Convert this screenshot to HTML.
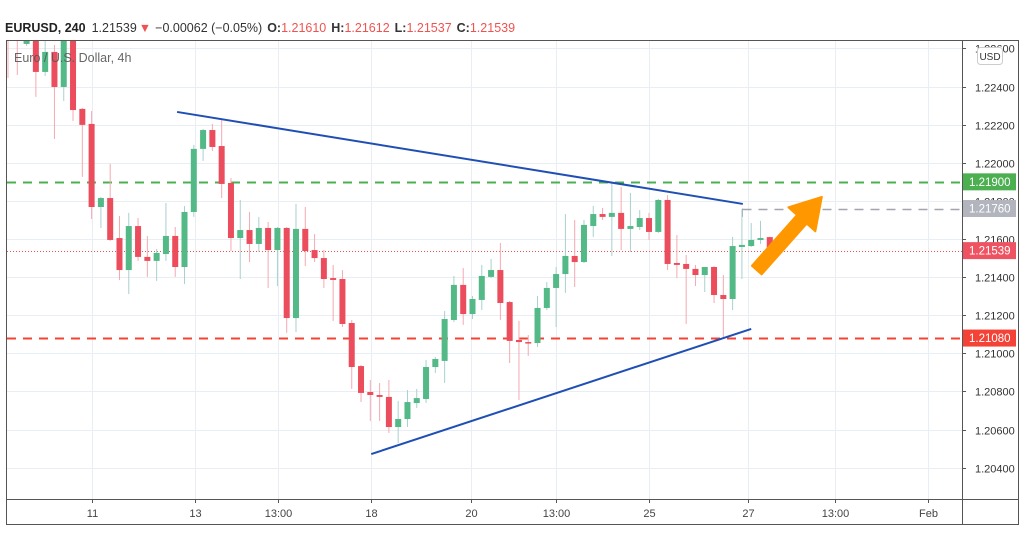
<!DOCTYPE html>
<html><head><meta charset="utf-8"><style>
html,body{margin:0;padding:0;background:#fff;}
svg{display:block;font-family:"Liberation Sans",sans-serif;}
</style></head><body>
<svg id="chart" width="1024" height="560" viewBox="0 0 1024 560" xmlns="http://www.w3.org/2000/svg">
<rect width="1024" height="560" fill="#fff"/>
<text x="5" y="32" font-size="12.5" fill="#333"><tspan font-weight="bold" fill="#222">EURUSD, 240</tspan><tspan dx="6">1.21539</tspan><tspan fill="#ef5350" dx="2">▼</tspan><tspan dx="4">−0.00062 (−0.05%)</tspan><tspan dx="5" font-weight="bold">O:</tspan><tspan fill="#ef5350">1.21610</tspan><tspan dx="5" font-weight="bold">H:</tspan><tspan fill="#ef5350">1.21612</tspan><tspan dx="5" font-weight="bold">L:</tspan><tspan fill="#ef5350">1.21537</tspan><tspan dx="5" font-weight="bold">C:</tspan><tspan fill="#ef5350">1.21539</tspan></text>
<g id="grid"></g>
<g id="levels"></g>
<g id="candles" clip-path="url(#plotclip)"></g>
<g id="overlays"></g>
<defs><clipPath id="plotclip"><rect x="7" y="41" width="955" height="458"/></clipPath></defs>
<text x="14" y="62" font-size="12.5" fill="#555" fill-opacity="0.9">Euro / U.S. Dollar, 4h</text>
<g id="axes"></g>
</svg>
<script>
const opens=[1.22697,1.22687,1.22624,1.22645,1.22477,1.22582,1.22398,1.22671,1.22283,1.22204,1.21768,1.21815,1.21605,1.21437,1.21668,1.21506,1.21485,1.21521,1.21616,1.21453,1.21742,1.22073,1.22172,1.22088,1.21894,1.21605,1.21647,1.21574,1.21658,1.21542,1.21658,1.21185,1.21653,1.21542,1.21500,1.21395,1.21390,1.21159,1.20933,1.20797,1.20781,1.20771,1.20613,1.20655,1.20739,1.20760,1.20928,1.20960,1.21175,1.21359,1.21206,1.21280,1.21401,1.21437,1.21269,1.21070,1.21059,1.21054,1.21238,1.21343,1.21416,1.21511,1.21479,1.21668,1.21731,1.21716,1.21737,1.21653,1.21663,1.21710,1.21637,1.21805,1.21474,1.21469,1.21443,1.21411,1.21453,1.21306,1.21285,1.21558,1.21563,1.21595,1.21610];
const highs=[1.22750,1.22724,1.22655,1.22697,1.22640,1.22619,1.22697,1.22697,1.22288,1.22272,1.21821,1.21994,1.21721,1.21737,1.21710,1.21616,1.21548,1.21789,1.21663,1.21773,1.22094,1.22178,1.22204,1.22225,1.21920,1.21805,1.21742,1.21716,1.21689,1.21663,1.21663,1.21784,1.21768,1.21626,1.21542,1.21464,1.21437,1.21175,1.20939,1.20860,1.20844,1.20860,1.20750,1.20807,1.20813,1.20965,1.20981,1.21222,1.21406,1.21448,1.21301,1.21464,1.21495,1.21579,1.21275,1.21170,1.21096,1.21301,1.21374,1.21453,1.21731,1.21700,1.21700,1.21773,1.21763,1.21899,1.21873,1.21842,1.21752,1.21737,1.21810,1.21831,1.21621,1.21516,1.21464,1.21453,1.21458,1.21411,1.21611,1.21758,1.21684,1.21695,1.21612];
const lows=[1.22445,1.22461,1.22613,1.22346,1.22456,1.22125,1.22325,1.22220,1.21926,1.21705,1.21658,1.21590,1.21385,1.21311,1.21485,1.21401,1.21380,1.21485,1.21401,1.21364,1.21716,1.22010,1.22062,1.21815,1.21537,1.21390,1.21479,1.21532,1.21343,1.21353,1.21107,1.21112,1.21458,1.21479,1.21343,1.21170,1.21138,1.20813,1.20744,1.20645,1.20645,1.20582,1.20529,1.20613,1.20713,1.20739,1.20897,1.20844,1.21164,1.21149,1.21180,1.21227,1.21395,1.21175,1.20949,1.20755,1.20986,1.21033,1.21227,1.21138,1.21317,1.21348,1.21474,1.21611,1.21700,1.21511,1.21542,1.21532,1.21647,1.21595,1.21632,1.21437,1.21395,1.21154,1.21353,1.21322,1.21264,1.21080,1.21227,1.21390,1.21558,1.21574,1.21537];
const closes=[1.22666,1.22655,1.22645,1.22477,1.22582,1.22398,1.22671,1.22277,1.22199,1.21768,1.21815,1.21595,1.21437,1.21668,1.21506,1.21485,1.21527,1.21616,1.21453,1.21742,1.22073,1.22172,1.22083,1.21889,1.21605,1.21647,1.21574,1.21658,1.21542,1.21658,1.21185,1.21653,1.21537,1.21500,1.21390,1.21385,1.21154,1.20928,1.20792,1.20781,1.20771,1.20613,1.20655,1.20744,1.20765,1.20928,1.20970,1.21180,1.21359,1.21206,1.21285,1.21406,1.21437,1.21264,1.21065,1.21059,1.21054,1.21238,1.21343,1.21416,1.21511,1.21479,1.21674,1.21731,1.21716,1.21737,1.21653,1.21668,1.21710,1.21637,1.21805,1.21469,1.21464,1.21443,1.21411,1.21453,1.21306,1.21285,1.21563,1.21569,1.21595,1.21605,1.21539];
const priceTicks=[1.204,1.206,1.208,1.210,1.212,1.214,1.216,1.218,1.220,1.222,1.224,1.226];
const timeTickIdx=[9,20.1,29.1,39.1,49.8,59,69,79.7,89,99];
const timeTickLabels=["11","13","13:00","18","20","13:00","25","27","13:00","Feb"];
const resistance=1.219, support=1.2108, lastHigh=1.2176, lastPrice=1.21539;
const upperTrend=[[18.2,1.22267],[79.1,1.21784]];
const lowerTrend=[[39.1,1.20471],[80,1.21128]];
const arrowPts=[[80.6,1.21437],[87.6,1.21821]];

const NS="http://www.w3.org/2000/svg";
const X0=7,X1=962,Y0=40,Y1=499;
function xS(i){return 8+9.29*i;}
function yS(p){return 239-(p-1.216)*19050;}
function mk(tag,attrs,parent){const e=document.createElementNS(NS,tag);for(const k in attrs)e.setAttribute(k,attrs[k]);parent.appendChild(e);return e;}
const grid=document.getElementById('grid'),lv=document.getElementById('levels'),cg=document.getElementById('candles'),ov=document.getElementById('overlays'),ax=document.getElementById('axes');

priceTicks.forEach(p=>{const y=Math.round(yS(p))+0.5;
 const g=mk('line',{x1:X0,x2:X1,y1:y,y2:y,stroke:'#e8eef3','stroke-width':1},grid);
 
 
 const t=mk('line',{x1:X1,x2:X1+4,y1:y,y2:y,stroke:'#555'},ax);
 
 
 const tx=mk('text',{x:975,y:y+4,'font-size':11,fill:'#333'},ax);tx.textContent=p.toFixed(5);
 
 
});
timeTickIdx.forEach((i,k)=>{const x=Math.round(xS(i))+0.5;
 const g=mk('line',{x1:x,x2:x,y1:Y0,y2:Y1,stroke:'#e8eef3'},grid);
 
 
 const t=mk('line',{x1:x,x2:x,y1:Y1,y2:Y1+4,stroke:'#555'},ax);
 
 
 const tx=mk('text',{x:x,y:517,'font-size':11,fill:'#444','text-anchor':'middle'},ax);tx.textContent=timeTickLabels[k];
 
 
});

function hline(p,color,dash,x0,name,w){const y=Math.round(yS(p))+0.5;const l=mk('line',{x1:x0,x2:X1,y1:y,y2:y,stroke:color,'stroke-width':w,'stroke-dasharray':dash},lv);
 
 }
hline(resistance,'#4caf50','9 7',X0,'resistance-line',2);
hline(support,'#f44336','9 7',X0,'support-line',2);
hline(lastPrice,'#ef5350','1 2',X0,'last-price-line',1);
const lhx=Math.round(xS(79))+0.5;
hline(lastHigh,'#a3a6af','9 7',lhx,'recent-high-line',1.5);

for(let i=0;i<opens.length;i++){const x=xS(i),up=closes[i]>=opens[i];
 const wick=mk('line',{x1:x,x2:x,y1:yS(highs[i]),y2:yS(lows[i]),stroke:up?'#a8d0cf':'#f5a9b1','stroke-width':1},cg);
 
 
 const top=yS(Math.max(opens[i],closes[i])),bot=yS(Math.min(opens[i],closes[i]));
 const b=mk('rect',{x:x-3,y:top,width:6,height:Math.max(1.5,bot-top),fill:up?'#53b987':'#eb4d5c'},cg);
 
 
}

function tl(pts,name){const l=mk('line',{x1:xS(pts[0][0]),y1:yS(pts[0][1]),x2:xS(pts[1][0]),y2:yS(pts[1][1]),stroke:'#1f4fb4','stroke-width':2},ov);
 
 }
tl(upperTrend,'upper-trendline');tl(lowerTrend,'lower-trendline');

(function(){const ax0=xS(arrowPts[0][0]),ay0=yS(arrowPts[0][1]),ax1=xS(arrowPts[1][0]),ay1=yS(arrowPts[1][1]);
 const dx=ax1-ax0,dy=ay1-ay0,L=Math.hypot(dx,dy),ux=dx/L,uy=dy/L,px=-uy,py=ux;
 const hl=30,hw=18,sw=6.5;const bx=ax1-ux*hl,by=ay1-uy*hl;
 const pts=[[ax0+px*sw,ay0+py*sw],[bx+px*sw,by+py*sw],[bx+px*hw,by+py*hw],[ax1,ay1],[bx-px*hw,by-py*hw],[bx-px*sw,by-py*sw],[ax0-px*sw,ay0-py*sw]];
 const a=mk('polygon',{points:pts.map(p=>p.join(',')).join(' '),fill:'#ff9800','stroke':'#ff9800','stroke-linejoin':'round','stroke-width':2},ov);
 
 
})();

const vl=mk('line',{x1:lhx,x2:lhx,y1:yS(lastHigh),y2:yS(highs[79])+8,stroke:'#a3a6af','stroke-width':1},lv);



// frame
const fr=mk('rect',{x:6.5,y:40.5,width:1012,height:484,fill:'none',stroke:'#555'},ax);


const bl=mk('line',{x1:6.5,x2:1018.5,y1:499.5,y2:499.5,stroke:'#555'},ax);


const rl=mk('line',{x1:962.5,x2:962.5,y1:40.5,y2:524.5,stroke:'#555'},ax);



// USD badge
const ub=mk('rect',{x:977.5,y:47.5,width:25,height:17,rx:3,fill:'#fff',stroke:'#ccc'},ax);


const ut=mk('text',{x:990,y:60,'font-size':10,fill:'#333','text-anchor':'middle'},ax);ut.textContent='USD';



function badge(p,color,name){const y=yS(p);
 const r=mk('rect',{x:963,y:y-8.5,width:53,height:17,fill:color},ax);
 
 
 const t=mk('text',{x:969,y:y+4,'font-size':11.5,fill:'#fff'},ax);t.textContent=p.toFixed(5);
 
 }
badge(resistance,'#4caf50','resistance-price-label');
badge(lastHigh,'#b2b5be','recent-high-price-label');
badge(lastPrice,'#ef5362','last-price-label');
badge(support,'#f44336','support-price-label');
</script>
</body></html>
